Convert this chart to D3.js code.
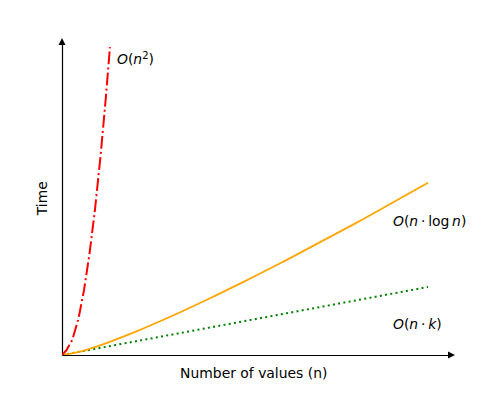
<!DOCTYPE html>
<html>
<head>
<meta charset="utf-8">
<script src="https://cdn.jsdelivr.net/npm/d3@7"></script>
<style>
  html,body{margin:0;padding:0;background:#fff;}
  svg{display:block;font-family:"DejaVu Sans",sans-serif;}
  .lbl{font-size:13.9px;fill:#000;}
</style>
</head>
<body>
<svg id="chart"></svg>
<script>
// values (n on x, time on y, arbitrary units)
const quadN = [0, 1.2, 2.8, 4.5, 6, 7.5, 9, 10.5, 12, 13.1];
const quadT = [0, 1.5, 4.8, 11.6, 20.6, 32.2, 46.3, 63.1, 82.4, 98.2];
const nlognN = [0, 5, 10, 20, 30, 40, 50, 60, 70, 80, 90, 100];
const nlognT = [0, 1.07, 2.92, 7.38, 12.43, 17.87, 23.58, 29.5, 35.7, 41.9, 48.4, 54.95];
const linN = [0, 100];
const linT = [0, 21.7];
const xLabel = 'Number of values (n)', yLabel = 'Time';

const width = 495, height = 399;
const margin = {left: 62, right: 43.5, top: 41.5, bottom: 44};
const svg = d3.select('#chart').attr('width', width).attr('height', height);

const x = d3.scaleLinear().domain([0, 106.4]).range([margin.left, width - margin.right]);
const y = d3.scaleLinear().domain([0, 100]).range([height - margin.bottom, margin.top]);

svg.append('defs').append('clipPath').attr('id', 'plot')
  .append('rect').attr('x', margin.left).attr('y', margin.top)
  .attr('width', x.range()[1] - margin.left).attr('height', y.range()[0] - margin.top);

// axes: spines only, no ticks
svg.append('g').attr('transform', `translate(0,${y(0)})`)
  .call(d3.axisBottom(x).ticks(0).tickSizeOuter(0))
  .select('.domain').attr('stroke', '#000').attr('stroke-width', 1.2);
svg.append('g').attr('transform', `translate(${x(0)},0)`)
  .call(d3.axisLeft(y).ticks(0).tickSizeOuter(0))
  .select('.domain').attr('stroke', '#000').attr('stroke-width', 1.2);

// arrow heads at the spine ends
const xe = x.range()[1], ye = y.range()[1];
svg.append('path').attr('d', `M${xe+3.5},${y(0)} L${xe-3.5},${y(0)-3.5} L${xe-3.5},${y(0)+3.5} Z`).attr('fill', '#000');
svg.append('path').attr('d', `M${x(0)},${ye-3.5} L${x(0)-3.5},${ye+3.5} L${x(0)+3.5},${ye+3.5} Z`).attr('fill', '#000');

const plot = svg.append('g').attr('clip-path', 'url(#plot)');
const zip = (a, b) => a.map((v, i) => [v, b[i]]);

plot.append('path').datum(zip(linN, linT))
  .attr('fill', 'none').attr('stroke', '#008000').attr('stroke-width', 2)
  .attr('stroke-dasharray', '2,3.3')
  .attr('d', d3.line().x(d => x(d[0])).y(d => y(d[1])));

plot.append('path').datum(zip(nlognN, nlognT))
  .attr('fill', 'none').attr('stroke', '#ffa500').attr('stroke-width', 1.8)
  .attr('d', d3.line().curve(d3.curveMonotoneX).x(d => x(d[0])).y(d => y(d[1])));

plot.append('path').datum(zip(quadN, quadT))
  .attr('fill', 'none').attr('stroke', '#ff0000').attr('stroke-width', 2)
  .attr('stroke-dasharray', '12.8,3.2,2,3.2')
  .attr('d', d3.line().x(d => x(d[0])).y(d => y(d[1])));

// curve labels (mathtext-like: italic variables)
function mathLabel(px, py, parts) {
  const t = svg.append('text').attr('class', 'lbl').attr('x', px).attr('y', py);
  parts.forEach(p => {
    const s = t.append('tspan').text(p[0]);
    if (p[1] === 'i') s.attr('font-style', 'italic');
    if (p[1] === 'sup') s.attr('font-size', '10px').attr('dy', -5.5);
    if (p[1] === 'down') s.attr('dy', 5.5);
  });
}
mathLabel(117, 64, [['O', 'i'], ['('], ['n', 'i'], ['2', 'sup'], [')', 'down']]);
mathLabel(393, 226, [['O', 'i'], ['('], ['n', 'i'], ['\u2009\u00b7\u2009'], ['log'], ['\u2009'], ['n', 'i'], [')']]);
mathLabel(393, 329, [['O', 'i'], ['('], ['n', 'i'], ['\u2009\u00b7\u2009'], ['k', 'i'], [')']]);

svg.append('text').attr('class', 'lbl').attr('text-anchor', 'middle')
  .attr('x', (x.range()[0] + x.range()[1]) / 2 - 3).attr('y', 378).text(xLabel);
svg.append('text').attr('class', 'lbl').attr('text-anchor', 'middle')
  .attr('transform', `translate(47,${(y.range()[0] + y.range()[1]) / 2}) rotate(-90)`).text(yLabel);
</script>
</body>
</html>
